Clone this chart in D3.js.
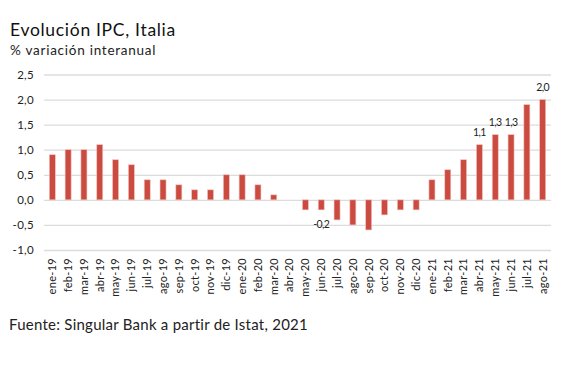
<!DOCTYPE html>
<html>
<head>
<meta charset="utf-8">
<script src="https://cdn.jsdelivr.net/npm/d3@7"></script>
<style>
  body { margin: 0; background: #fff; font-family: Lato, sans-serif; }
  .tick text { font-family: Lato, sans-serif; }
</style>
</head>
<body>
<div id="chart"></div>
<script>
// data
var months = ["ene-19","feb-19","mar-19","abr-19","may-19","jun-19","jul-19","ago-19","sep-19","oct-19","nov-19","dic-19",
  "ene-20","feb-20","mar-20","abr-20","may-20","jun-20","jul-20","ago-20","sep-20","oct-20","nov-20","dic-20",
  "ene-21","feb-21","mar-21","abr-21","may-21","jun-21","jul-21","ago-21"];
var ipc = [0.9,1.0,1.0,1.1,0.8,0.7,0.4,0.4,0.3,0.2,0.2,0.5,
  0.5,0.3,0.1,0.0,-0.2,-0.2,-0.4,-0.5,-0.6,-0.3,-0.2,-0.2,
  0.4,0.6,0.8,1.1,1.3,1.3,1.9,2.0];
var yTicks = [-1.0,-0.5,0,0.5,1.0,1.5,2.0,2.5];
var labelled = ["jun-20","abr-21","may-21","jun-21","ago-21"];

var svgWidth = 576, svgHeight = 365;
var margin = {top: 74.5, right: 25, bottom: 115, left: 44};
var width = svgWidth - margin.left - margin.right;
var height = svgHeight - margin.top - margin.bottom;

var fmt = function(v) { return d3.format(".1f")(v).replace(".", ",").replace("−", "-"); };

var svg = d3.select("#chart").append("svg")
  .attr("width", svgWidth)
  .attr("height", svgHeight);

svg.append("text").attr("x", 10).attr("y", 35.5)
  .attr("font-size", "17.5px").attr("fill", "#111")
  .attr("letter-spacing", "0.7px")
  .text("Evolución IPC, Italia");
svg.append("text").attr("x", 10).attr("y", 55)
  .attr("font-size", "13.5px").attr("fill", "#222")
  .attr("letter-spacing", "0.75px")
  .text("% variación interanual");
svg.append("text").attr("x", 9).attr("y", 330)
  .attr("font-size", "15px").attr("fill", "#222")
  .attr("letter-spacing", "0.25px")
  .text("Fuente: Singular Bank a partir de Istat, 2021");

var chartGroup = svg.append("g")
  .attr("transform", `translate(${margin.left}, ${margin.top})`);

var x = d3.scaleBand().domain(months).range([0, width]).paddingInner(0.62).paddingOuter(0.335);
var y = d3.scaleLinear().domain([-1.0, 2.5]).range([height, 0]);

// gridlines + y labels
var leftAxis = d3.axisLeft(y).tickValues(yTicks).tickSize(-width).tickPadding(10).tickFormat(fmt);
var gy = chartGroup.append("g").call(leftAxis);
gy.select(".domain").remove();
gy.selectAll(".tick line").attr("stroke", "#dcdcdc").attr("stroke-width", 1.3);
gy.selectAll(".tick text").attr("font-size", "11.5px").attr("fill", "#222").attr("letter-spacing", "0.3px");

// bars
chartGroup.selectAll("rect.bar")
  .data(ipc)
  .enter()
  .append("rect")
  .attr("class", "bar")
  .attr("x", (d, i) => x(months[i]))
  .attr("width", x.bandwidth())
  .attr("y", d => y(Math.max(0, d)))
  .attr("height", d => Math.abs(y(d) - y(0)))
  .attr("fill", "#cc4b40")
  .attr("stroke", "#f0c5c0")
  .attr("stroke-width", 0.6);

// value labels
chartGroup.selectAll("text.val")
  .data(ipc.map((d, i) => ({v: d, m: months[i]})).filter(d => labelled.indexOf(d.m) >= 0))
  .enter()
  .append("text")
  .attr("class", "val")
  .attr("x", d => x(d.m) + x.bandwidth() / 2)
  .attr("y", d => d.v < 0 ? y(d.v) + 18 : y(d.v) - 9)
  .attr("text-anchor", "middle")
  .attr("font-size", "10.5px")
  .attr("letter-spacing", "-0.6px")
  .attr("fill", "#222")
  .text(d => fmt(d.v));

// x labels
var bottomAxis = d3.axisBottom(x).tickSize(0).tickPadding(0);
var gx = chartGroup.append("g")
  .attr("transform", `translate(0, ${height})`)
  .call(bottomAxis);
gx.select(".domain").remove();
gx.selectAll(".tick text")
  .attr("font-size", "11px").attr("fill", "#222")
  .attr("letter-spacing", "0.3px")
  .attr("text-anchor", "end")
  .attr("transform", "translate(0,8) rotate(-90)")
  .attr("x", 0).attr("y", 0).attr("dy", "0.35em");
</script>
</body>
</html>
